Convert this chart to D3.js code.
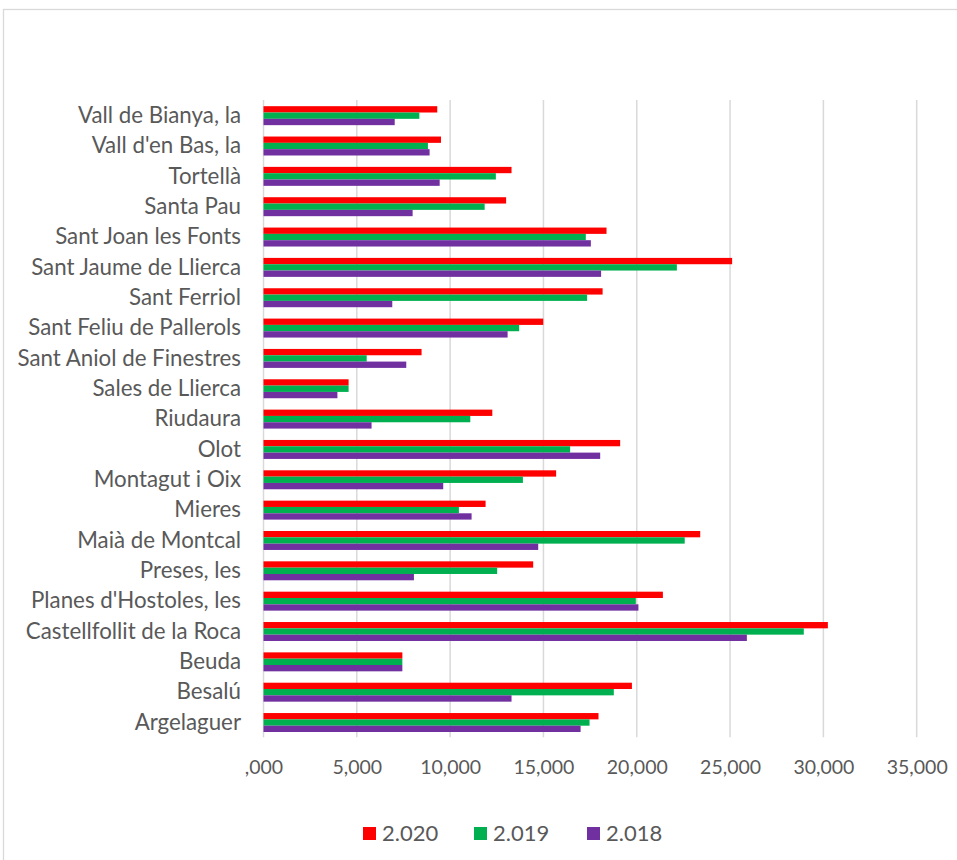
<!DOCTYPE html>
<html><head><meta charset="utf-8">
<script src="https://cdn.jsdelivr.net/npm/d3@7"></script>
<style>body{margin:0;background:#fff;}svg{display:block;}</style>
</head><body>
<svg id="chart" width="957" height="860"></svg>
<script>
const categories = ["Vall de Bianya, la","Vall d'en Bas, la","Tortellà","Santa Pau","Sant Joan les Fonts","Sant Jaume de Llierca","Sant Ferriol","Sant Feliu de Pallerols","Sant Aniol de Finestres","Sales de Llierca","Riudaura","Olot","Montagut i Oix","Mieres","Maià de Montcal","Preses, les","Planes d'Hostoles, les","Castellfollit de la Roca","Beuda","Besalú","Argelaguer"];
const seriesNames = ["2.020","2.019","2.018"];
const seriesColors = ["#ff0000","#00b050","#7030a0"];
const v2020 = [9310,9510,13290,13000,18380,25110,18170,14990,8470,4560,12260,19110,15680,11900,23400,14450,21400,30240,7440,19740,17950];
const v2019 = [8350,8810,12450,11850,17270,22150,17340,13700,5530,4560,11080,16430,13900,10470,22570,12520,19950,28950,7440,18770,17470];
const v2018 = [7030,8900,9440,7990,17540,18090,6900,13080,7650,3960,5790,18040,9630,11150,14720,8060,20090,25900,7440,13290,16990];
const tickValues = [0,5000,10000,15000,20000,25000,30000,35000];
const tickLabels = [",000","5,000","10,000","15,000","20,000","25,000","30,000","35,000"];

const svg = d3.select("#chart");
const font = "Lato, 'Open Sans', sans-serif";
const textColor = "#595959";
const gridColor = "#d9d9d9";

// chart frame
svg.append("rect").attr("x",3.5).attr("y",9.5).attr("width",970).attr("height",900)
  .attr("fill","#fff").attr("stroke",gridColor).attr("stroke-width",1.3);

const x = d3.scaleLinear().domain([0,35000]).range([263.5,916.7]);
const y = d3.scaleBand().domain(categories).range([100,737.2]).paddingInner(0).paddingOuter(0);
const bw = y.bandwidth();
const gw = bw/1.6;
const y1 = d3.scaleBand().domain(seriesNames).range([(bw-gw)/2,(bw+gw)/2]);

// gridlines
svg.append("g").selectAll("line").data(tickValues).join("line")
  .attr("x1",d=>x(d)).attr("x2",d=>x(d)).attr("y1",100).attr("y2",737.2)
  .attr("stroke",gridColor).attr("stroke-width",1.5);

const values = [v2020,v2019,v2018];
const rows = [];
categories.forEach((c,i)=>seriesNames.forEach((s,j)=>rows.push({c,s,v:values[j][i],col:seriesColors[j]})));
svg.append("g").selectAll("rect").data(rows).join("rect")
  .attr("x",x(0)).attr("y",d=>y(d.c)+y1(d.s)+0.5)
  .attr("width",d=>x(d.v)-x(0)).attr("height",y1.bandwidth())
  .attr("fill",d=>d.col);

// x axis
const xAxis = d3.axisBottom(x).tickValues(tickValues).tickFormat((d,i)=>tickLabels[i]).tickSize(0).tickPadding(0);
const gx = svg.append("g").attr("transform","translate(0,760)").call(xAxis);
gx.select(".domain").remove();
gx.selectAll("text").attr("fill",textColor).style("font-family",font).style("font-size","19.5px").attr("dy","0.72em");

// y axis
const yAxis = d3.axisLeft(y).tickSize(0).tickPadding(0);
const gy = svg.append("g").attr("transform","translate(241,0)").call(yAxis);
gy.select(".domain").remove();
gy.selectAll("text").attr("fill",textColor).style("font-family",font).style("font-size","22.3px").attr("dy","0.35em");

// legend
const legend = svg.append("g");
const legX = [363,474,587];
seriesNames.forEach((s,i)=>{
  legend.append("rect").attr("x",legX[i]).attr("y",827).attr("width",13).attr("height",13).attr("fill",seriesColors[i]);
  legend.append("text").attr("x",legX[i]+19).attr("y",833.5).attr("dy","0.35em")
    .attr("fill",textColor).style("font-family",font).style("font-size","22px").text(s);
});
</script>
</body></html>
